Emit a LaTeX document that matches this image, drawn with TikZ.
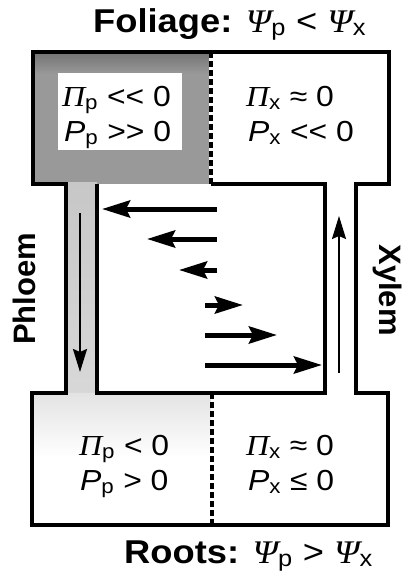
\documentclass[tikz,border=0pt]{standalone}
\usepackage{fontspec}
\setmainfont{Liberation Sans}[FakeStretch=1.1]
\newfontfamily\grkfont{Liberation Serif}[FakeStretch=1.1]
\newfontfamily\upsans{Liberation Sans}
\usepackage{tikz}
\usetikzlibrary{arrows.meta}
\definecolor{leafgray}{gray}{0.6}
\definecolor{leafdark}{gray}{0.45}
\definecolor{tubegray}{gray}{0.78}
\definecolor{rootgray}{gray}{0.89}
\newcommand{\PiS}{{\grkfont\itshape Π}}
\newcommand{\PsiS}{{\grkfont\itshape Ψ}}
\newcommand{\PS}{\textit{P}}

\begin{document}
\begin{tikzpicture}[x=1pt,y=-1pt,>=Stealth,line join=miter,
    wall/.style={line width=3.2pt},
    divider/.style={line width=4pt,dash pattern=on 6pt off 3pt},
    flow/.style={line width=5pt,-{Stealth[length=28pt,width=17pt,inset=4pt]}},
    tubeflow/.style={line width=2pt,-{Stealth[length=23pt,width=14pt,inset=3pt]}},
    cell/.style={anchor=base west,font=\fontsize{29}{34}\selectfont,inner sep=0pt},
    heading/.style={anchor=base west,font=\fontsize{33}{38}\selectfont,inner sep=0pt},
    label/.style={anchor=base,font=\upsans\fontsize{31}{36}\selectfont\bfseries,inner sep=0pt}]
    \useasboundingbox (0,0) rectangle (402,576);

    % Shading of the phloem side
    \fill[leafgray] (33,52) rectangle (211,184);
    \shade[top color=leafdark,bottom color=leafgray] (33,52) rectangle (211,74);
    \fill[white] (58,73) rectangle (182,150);
    \shade[top color=tubegray,bottom color=tubegray!70] (66,182) rectangle (97,393);
    \shade[top color=rootgray,bottom color=white] (33,393) rectangle (211,458);

    % Walls
    \draw[wall] (33,52)--(389,52)--(389,184)--(356,184)--(356,393)--(388,393)
        --(388,525)--(32,525)--(32,393)--(66,393)--(66,184)--(33,184)--cycle;
    \draw[wall] (211,184)--(325,184)--(325,393)--(97,393)--(97,184);

    % Dividers
    \draw[white,line width=4pt] (211,52)--(211,184);
    \draw[divider] (211,52)--(211,184);
    \draw[divider] (212,393)--(212,525);

    % Flows
    \foreach \y/\xa/\xb in {209/217/102,239/217/147,270/217/179,
                            305/205/243,335/205/277,365/205/322}
        \draw[flow] (\xa,\y)--(\xb,\y);
    \draw[tubeflow] (80,213)--(80,372);
    \draw[tubeflow] (339,373)--(339,216);

    % Cell contents
    \node[cell] (tl1) at (62,106) {\PiS\textsubscript{p} <{}< 0};
    \node[cell] (tl2) at (64,141) {\PS\textsubscript{p} >{}> 0};
    \node[cell] (tr1) at (246,106) {\PiS\textsubscript{x} ≈ 0};
    \node[cell] (tr2) at (248,141) {\PS\textsubscript{x} <{}< 0};
    \node[cell] (bl1) at (79,455) {\PiS\textsubscript{p} < 0};
    \node[cell] (bl2) at (80,490) {\PS\textsubscript{p} > 0};
    \node[cell] (br1) at (246,455) {\PiS\textsubscript{x} ≈ 0};
    \node[cell] (br2) at (248,490) {\PS\textsubscript{x} ≤ 0};

    % Labels
    \node[heading] (foliage) at (93,32) {\textbf{Foliage:} \PsiS\textsubscript{p} < \PsiS\textsubscript{x}};
    \node[heading] (roots) at (124,563) {\textbf{Roots:} \PsiS\textsubscript{p} > \PsiS\textsubscript{x}};
    \node[label,rotate=90] (phloem) at (35,289) {Phloem};
    \node[label,rotate=-90] (xylem) at (379,290) {Xylem};
\end{tikzpicture}
\end{document}
